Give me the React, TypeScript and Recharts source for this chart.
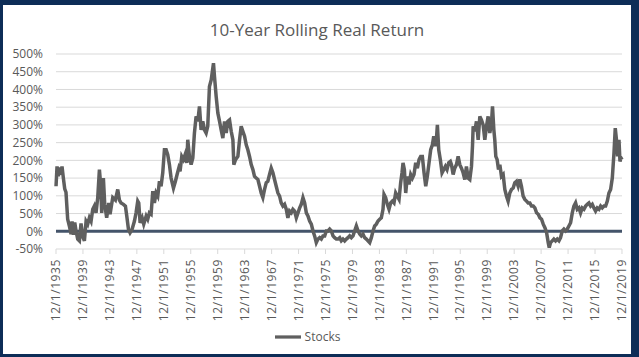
import React from "react";
import {
  LineChart,
  Line,
  XAxis,
  YAxis,
  CartesianGrid,
  Legend,
  ReferenceLine,
} from "recharts";

// decimal year of each reading (12/1/1935 = 1935.92)
const dates = [
  1935.92, 1936.07, 1936.27, 1936.42, 1936.66, 1936.81, 1937.01, 1937.21, 1937.4, 1937.65,
  1937.9, 1938.15, 1938.3, 1938.5, 1938.7, 1938.9, 1939.14, 1939.39, 1939.63, 1939.88,
  1940.13, 1940.38, 1940.62, 1940.87, 1941.12, 1941.37, 1941.61, 1941.86, 1942.11, 1942.36,
  1942.55, 1942.7, 1942.95, 1943.15, 1943.44, 1943.74, 1943.94, 1944.34, 1944.73, 1945.08,
  1945.33, 1945.57, 1945.92, 1946.22, 1946.42, 1946.67, 1946.91, 1947.2, 1947.55, 1947.8,
  1948.05, 1948.2, 1948.4, 1948.7, 1948.94, 1949.3, 1949.53, 1949.78, 1950.03, 1950.28,
  1950.52, 1950.77, 1951.02, 1951.27, 1951.51, 1951.76, 1952.01, 1952.26, 1952.5, 1952.75,
  1953.0, 1953.35, 1953.64, 1953.89, 1954.14, 1954.33, 1954.58, 1954.83, 1955.08, 1955.33,
  1955.47, 1955.72, 1955.97, 1956.22, 1956.46, 1956.71, 1956.96, 1957.21, 1957.45, 1957.7,
  1957.95, 1958.2, 1958.44, 1958.69, 1958.95, 1959.29, 1959.44, 1959.69, 1959.94, 1960.19,
  1960.43, 1960.68, 1960.93, 1961.18, 1961.42, 1961.67, 1961.92, 1962.17, 1962.31, 1962.56,
  1962.91, 1963.16, 1963.4, 1963.65, 1963.9, 1964.15, 1964.39, 1964.64, 1964.89, 1965.14,
  1965.38, 1965.63, 1965.88, 1966.13, 1966.37, 1966.62, 1966.87, 1967.12, 1967.36, 1967.61,
  1967.86, 1968.11, 1968.35, 1968.6, 1968.85, 1969.1, 1969.34, 1969.59, 1969.84, 1970.09,
  1970.33, 1970.58, 1970.84, 1971.08, 1971.33, 1971.58, 1971.83, 1972.08, 1972.32, 1972.57,
  1972.82, 1973.07, 1973.31, 1973.56, 1973.81, 1974.06, 1974.3, 1974.55, 1974.8, 1975.05,
  1975.29, 1975.54, 1975.79, 1976.04, 1976.28, 1976.53, 1976.78, 1977.03, 1977.27, 1977.52,
  1977.77, 1978.02, 1978.26, 1978.51, 1978.76, 1979.01, 1979.25, 1979.5, 1979.75, 1980.0,
  1980.24, 1980.49, 1980.74, 1980.99, 1981.23, 1981.48, 1981.73, 1981.98, 1982.22, 1982.47,
  1982.72, 1982.97, 1983.21, 1983.46, 1983.71, 1983.96, 1984.2, 1984.45, 1984.6, 1984.84,
  1985.09, 1985.34, 1985.59, 1985.84, 1986.08, 1986.33, 1986.58, 1986.83, 1987.07, 1987.27,
  1987.42, 1987.62, 1987.82, 1988.06, 1988.31, 1988.56, 1988.81, 1989.05, 1989.3, 1989.55,
  1989.8, 1990.04, 1990.29, 1990.54, 1990.79, 1991.03, 1991.28, 1991.53, 1991.78, 1991.98,
  1992.17, 1992.37, 1992.52, 1992.72, 1992.96, 1993.21, 1993.46, 1993.71, 1993.95, 1994.2,
  1994.45, 1994.61, 1994.86, 1995.1, 1995.35, 1995.6, 1995.85, 1996.09, 1996.34, 1996.59,
  1996.83, 1997.08, 1997.33, 1997.58, 1997.73, 1997.83, 1998.07, 1998.32, 1998.57, 1998.82,
  1999.06, 1999.31, 1999.56, 1999.81, 2000.05, 2000.3, 2000.55, 2000.7, 2000.9, 2001.04,
  2001.19, 2001.39, 2001.59, 2001.79, 2002.03, 2002.28, 2002.53, 2002.78, 2003.02, 2003.27,
  2003.52, 2003.77, 2004.01, 2004.26, 2004.51, 2004.76, 2005.0, 2005.25, 2005.5, 2005.75,
  2005.99, 2006.24, 2006.49, 2006.75, 2006.99, 2007.24, 2007.49, 2007.74, 2007.98, 2008.23,
  2008.48, 2008.73, 2008.97, 2009.12, 2009.32, 2009.57, 2009.81, 2010.06, 2010.31, 2010.56,
  2010.8, 2011.05, 2011.3, 2011.55, 2011.79, 2012.04, 2012.29, 2012.54, 2012.78, 2013.03,
  2013.28, 2013.53, 2013.77, 2014.02, 2014.27, 2014.52, 2014.77, 2015.01, 2015.26, 2015.51,
  2015.75, 2016.0, 2016.25, 2016.5, 2016.75, 2016.99, 2017.24, 2017.49, 2017.74, 2017.98,
  2018.23, 2018.48, 2018.73, 2018.92, 2019.12, 2019.27, 2019.47, 2019.62, 2019.77, 2019.92,
];

// 10-year rolling real return of stocks, in percent
const stocks = [
  127, 183, 155, 180, 160, 183, 150, 120, 110, 34,
  15, -8, 28, -10, 25, 0, -22, -27, 22, -15,
  -27, 28, 20, 38, 28, 62, 71, 52, 95, 174,
  130, 52, 150, 75, 38, 80, 48, 95, 88, 118,
  88, 80, 76, 71, 43, 6, -4, 5, 28, 52,
  85, 80, 24, 38, 20, 43, 34, 52, 48, 113,
  80, 108, 99, 141, 127, 165, 230, 230, 216, 188,
  150, 122, 141, 160, 178, 169, 211, 202, 216, 193,
  258, 211, 188, 207, 277, 324, 310, 352, 286, 310,
  286, 277, 296, 408, 427, 474, 436, 380, 333, 310,
  286, 263, 310, 277, 310, 314, 282, 258, 188, 202,
  211, 258, 296, 282, 268, 244, 230, 211, 188, 174,
  155, 150, 146, 127, 108, 95, 118, 137, 141, 160,
  178, 165, 146, 127, 108, 99, 80, 71, 76, 62,
  38, 57, 52, 62, 57, 38, 52, 66, 76, 95,
  80, 52, 43, 29, 20, 1, -13, -32, -22, -18,
  -22, -13, -13, 1, 1, 6, 1, -13, -18, -22,
  -22, -18, -27, -22, -27, -22, -18, -13, -18, -13,
  1, 15, 1, -8, -13, -8, -18, -22, -27, -32,
  -18, 1, 15, 20, 29, 34, 38, 62, 104, 95,
  76, 62, 80, 85, 80, 108, 99, 90, 137, 165,
  193, 174, 108, 155, 132, 160, 150, 160, 193, 178,
  202, 211, 211, 165, 127, 155, 193, 230, 244, 268,
  240, 258, 300, 230, 202, 165, 174, 183, 174, 193,
  197, 188, 160, 178, 188, 211, 188, 178, 165, 146,
  183, 150, 146, 183, 240, 296, 282, 310, 258, 324,
  314, 300, 258, 296, 324, 277, 305, 352, 286, 258,
  211, 202, 174, 188, 155, 160, 118, 99, 85, 108,
  118, 122, 137, 141, 127, 146, 127, 99, 90, 85,
  80, 80, 71, 71, 66, 52, 48, 38, 34, 20,
  10, -4, -32, -46, -32, -27, -22, -27, -22, -27,
  -18, 1, 6, 1, 6, 15, 24, 52, 71, 80,
  62, 66, 52, 66, 62, 71, 76, 80, 71, 76,
  66, 57, 66, 62, 71, 66, 71, 71, 85, 108,
  118, 150, 221, 291, 254, 211, 258, 197, 207, 202,
];

const tickYears = [
  1935, 1939, 1943, 1947, 1951, 1955, 1959, 1963, 1967, 1971, 1975,
  1979, 1983, 1987, 1991, 1995, 1999, 2003, 2007, 2011, 2015, 2019,
];
const yTicks = [-50, 0, 50, 100, 150, 200, 250, 300, 350, 400, 450, 500];

const data = dates.map((d, i) => ({ date: d, stocks: stocks[i] }));
const xTicks = tickYears.map((y) => y + 11 / 12);

const FONT = "'Open Sans', 'Liberation Sans', sans-serif";
const TEXT = "#595959";

function DateTick(props: any) {
  const { x, y, payload } = props;
  return (
    <g transform={`translate(${x},${y})`}>
      <text
        transform="rotate(-90)"
        textAnchor="end"
        dy="0.35em"
        fill={TEXT}
        fontSize={12}
        fontFamily={FONT}
        letterSpacing={0.6}
      >
        {`12/1/${Math.floor(payload.value)}`}
      </text>
    </g>
  );
}

export default function App() {
  return (
    <div
      style={{
        position: "relative",
        width: 639,
        height: 357,
        background: "#0d2d57",
        overflow: "hidden",
      }}
    >
      <style>{"body{margin:0}"}</style>
      <div
        style={{
          position: "absolute",
          left: 3,
          top: 5,
          width: 628,
          height: 349,
          background: "#ffffff",
        }}
      >
        <div
          style={{
            position: "absolute",
            top: 13,
            left: 0,
            width: 628,
            textAlign: "center",
            fontFamily: FONT,
            fontSize: 17,
            color: TEXT,
          }}
        >
          10-Year Rolling Real Return
        </div>
        <LineChart
          width={628}
          height={349}
          data={data}
          margin={{ top: 49, right: 9, left: 0, bottom: 8 }}
        >
          <CartesianGrid horizontal vertical={false} stroke="#d9d9d9" />
          <XAxis
            type="number"
            dataKey="date"
            domain={[1935 + 11 / 12, 2019 + 11 / 12]}
            ticks={xTicks}
            interval={0}
            height={75}
            axisLine={false}
            tickLine={{ stroke: "#d9d9d9" }}
            tickSize={5}
            tickMargin={5}
            tick={<DateTick />}
          />
          <YAxis
            domain={[-50, 500]}
            ticks={yTicks}
            width={53}
            axisLine={false}
            tickLine={false}
            tickMargin={7}
            tickFormatter={(v) => `${v}%`}
            tick={{ fill: TEXT, fontSize: 12, fontFamily: FONT }}
            interval={0}
          />
          <ReferenceLine y={0} stroke="#44546a" strokeWidth={3} />
          <Line
            type="linear"
            dataKey="stocks"
            name="Stocks"
            stroke="#5f5f5f"
            strokeWidth={3.5}
            dot={false}
            isAnimationActive={false}
          />
          <Legend
            verticalAlign="bottom"
            align="center"
            iconType="plainline"
            iconSize={26}
            height={22}
            formatter={(value) => (
              <span style={{ color: TEXT, fontSize: 12, fontFamily: FONT }}>{value}</span>
            )}
          />
        </LineChart>
      </div>
    </div>
  );
}
